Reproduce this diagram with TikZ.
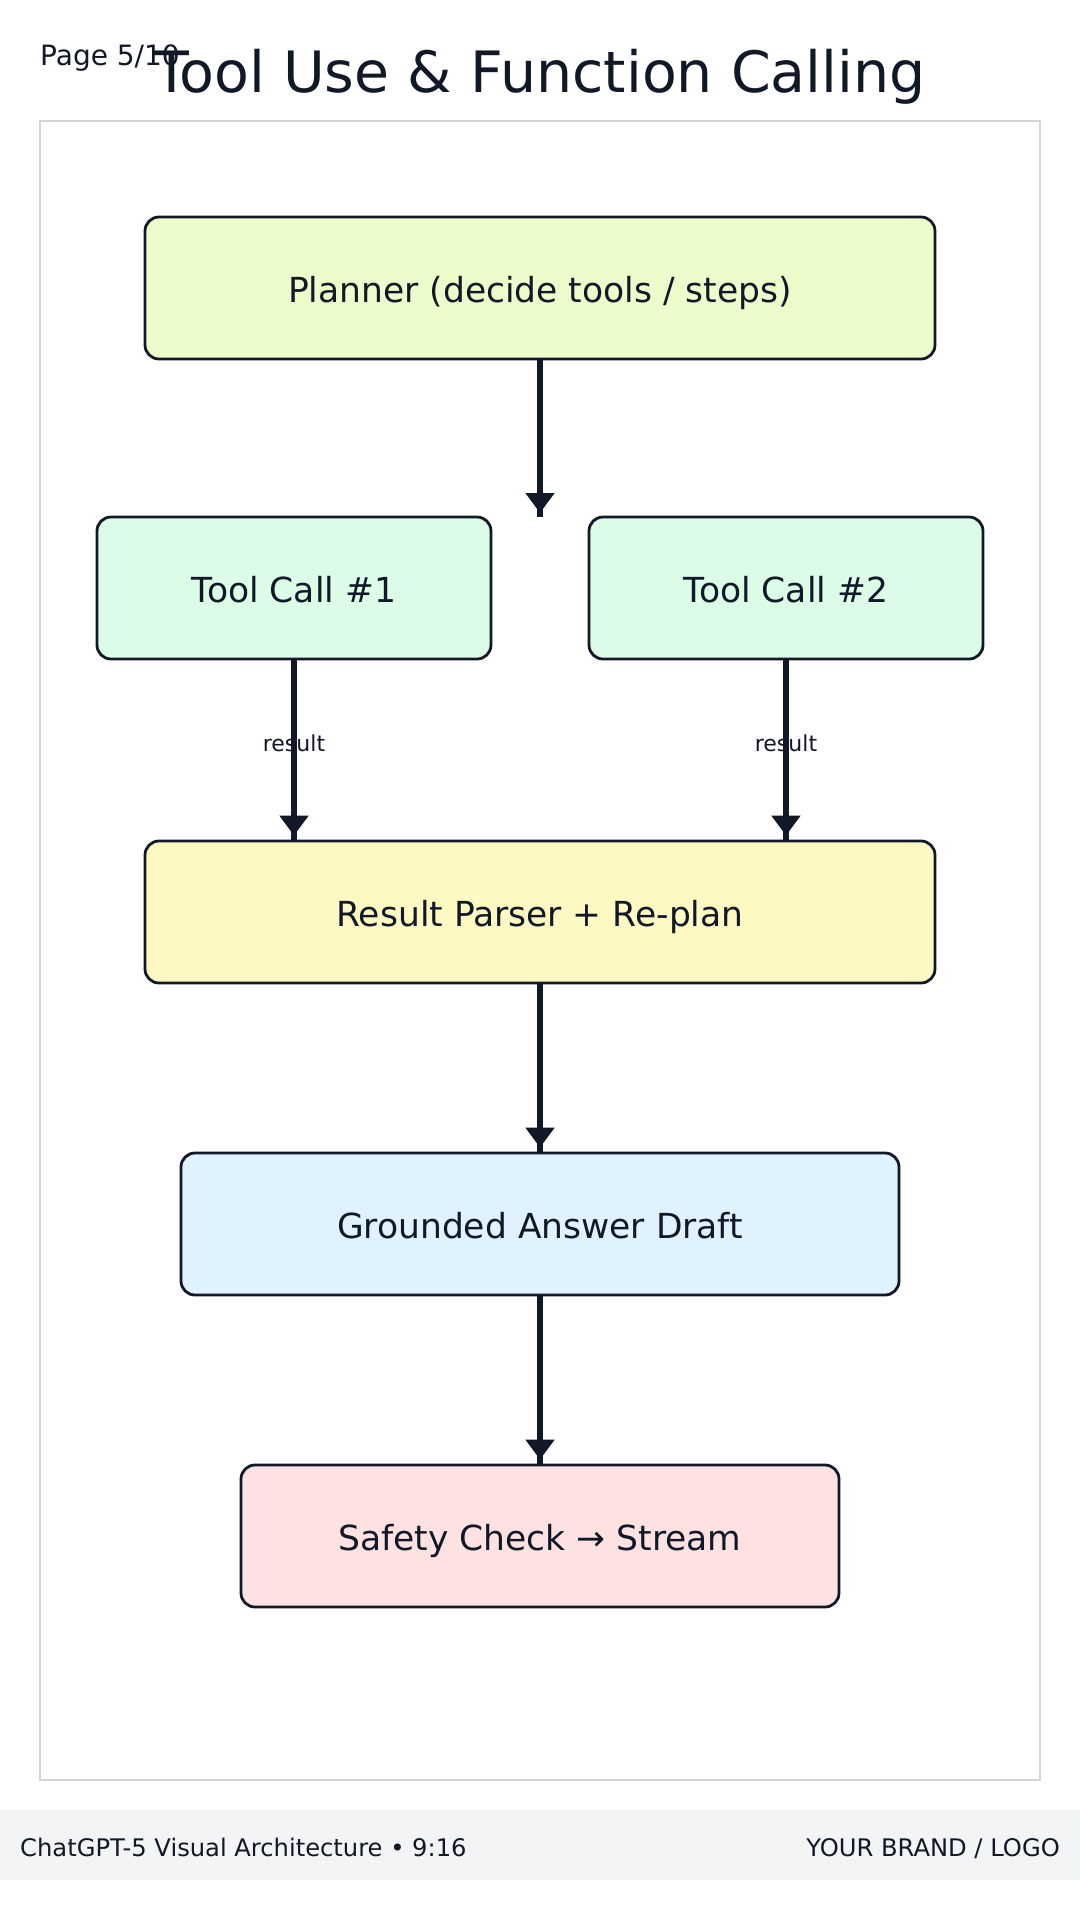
\documentclass[tikz,border=0pt]{standalone}
\usepackage{fontspec}
\setmainfont{DejaVu Sans}
\usetikzlibrary{arrows.meta}
\definecolor{ink}{HTML}{111827}
\definecolor{framec}{HTML}{D1D5DB}
\definecolor{footbg}{HTML}{F3F4F6}
\definecolor{cplan}{HTML}{ECFCCB}
\definecolor{ctool}{HTML}{DCFCE7}
\definecolor{cres}{HTML}{FEF9C3}
\definecolor{cgnd}{HTML}{E0F2FE}
\definecolor{csafe}{HTML}{FEE2E2}
\begin{document}
\begin{tikzpicture}[x=1pt,y=-1pt,
  box/.style={draw=ink, line width=2.8pt, rounded corners=14pt, text=ink,
    font=\fontsize{34.5}{40}\selectfont, text height=29pt, text depth=0pt,
    inner sep=0pt, minimum height=142pt},
  conn/.style={draw=ink, line width=5.5pt},
  connhead/.style={draw=ink, line width=5.5pt, -{Triangle[length=20pt,width=28pt]}, shorten >=4pt},
  lab/.style={font=\fontsize{22}{26}\selectfont, text=ink, inner sep=0pt, anchor=base}]
\useasboundingbox (0,0) rectangle (1080,1920);
\fill[white] (0,0) rectangle (1080,1920);
% frame
\draw[framec, line width=2pt] (40,120.5) rectangle (1040,1779.5);
% header
\node[anchor=base west, text=ink, inner sep=0pt, font=\fontsize{28}{32}\selectfont] (page) at (40,65) {Page 5/10};
\node[anchor=base, text=ink, inner sep=0pt, font=\fontsize{57}{62}\selectfont] (title) at (540,92) {Tool Use \& Function Calling};
% boxes
\node[box, fill=cplan, minimum width=790pt] (plan) at (540,288) {Planner (decide tools / steps)};
\node[box, fill=ctool, minimum width=394pt] (t1) at (294,588) {Tool Call \#1};
\node[box, fill=ctool, minimum width=394pt] (t2) at (786,588) {Tool Call \#2};
\node[box, fill=cres, minimum width=790pt] (rp) at (540,912) {Result Parser + Re-plan};
\node[box, fill=cgnd, minimum width=718pt] (gnd) at (540,1224) {Grounded Answer Draft};
\node[box, fill=csafe, minimum width=598pt] (safe) at (540,1536) {Safety Check → Stream};
\coordinate (gap) at (540,517);
% connectors
\path (plan.south) edge[conn] (gap) edge[connhead] (gap);
\path (t1.south) edge[conn] node[lab, pos=0.5, yshift=-1pt] (lab1) {result} (t1.south |- rp.north)
      (t1.south) edge[connhead] (t1.south |- rp.north);
\path (t2.south) edge[conn] node[lab, pos=0.5, yshift=-1pt] (lab2) {result} (t2.south |- rp.north)
      (t2.south) edge[connhead] (t2.south |- rp.north);
\path (rp.south) edge[conn] (gnd.north) edge[connhead] (gnd.north);
\path (gnd.south) edge[conn] (safe.north) edge[connhead] (safe.north);
% footer
\fill[footbg] (0,1810) rectangle (1080,1880);
\node[anchor=base west, text=ink, inner sep=0pt, font=\fontsize{24.2}{28}\selectfont] (foot1) at (20,1856) {ChatGPT-5 Visual Architecture • 9:16};
\node[anchor=base east, text=ink, inner sep=0pt, font=\fontsize{24.2}{28}\selectfont] (foot2) at (1060,1856) {YOUR BRAND / LOGO};
\end{tikzpicture}
\end{document}
